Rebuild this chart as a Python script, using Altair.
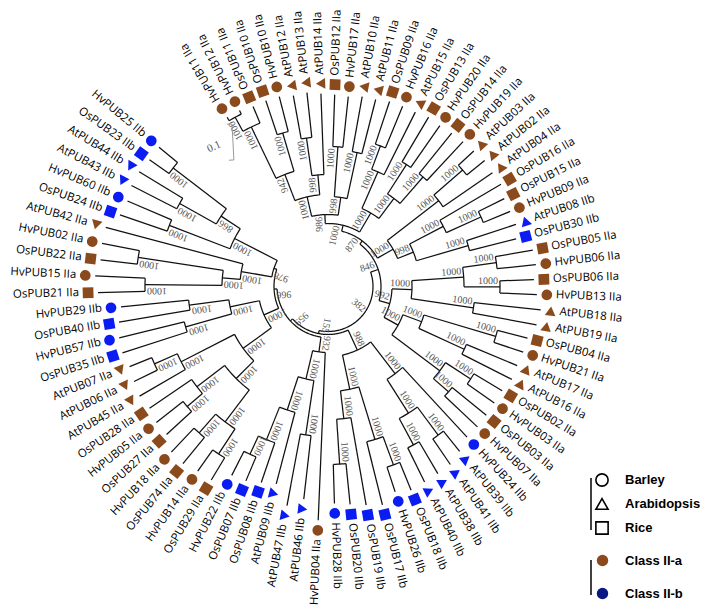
import re
import math
import pandas as pd
import altair as alt

# ---------------- data ----------------
LEAF_NAMES = [
    "HvPUB11 IIa", "HvPUB12 IIa", "OsPUB11 IIa", "OsPUB10 IIa", "HvPUB10 IIa",
    "AtPUB12 IIa", "AtPUB13 IIa", "AtPUB14 IIa", "OsPUB12 IIa", "HvPUB17 IIa",
    "AtPUB10 IIa", "AtPUB11 IIa", "OsPUB09 IIa", "HvPUB16 IIa", "AtPUB15 IIa",
    "OsPUB13 IIa", "HvPUB20 IIa", "OsPUB14 IIa", "HvPUB19 IIa", "AtPUB03 IIa",
    "AtPUB02 IIa", "AtPUB04 IIa", "OsPUB16 IIa", "OsPUB15 IIa", "HvPUB09 IIa",
    "AtPUB08 IIb", "OsPUB30 IIb", "OsPUB05 IIa", "HvPUB06 IIa", "OsPUB06 IIa",
    "HvPUB13 IIa", "AtPUB18 IIa", "AtPUB19 IIa", "OsPUB04 IIa", "HvPUB21 IIa",
    "AtPUB17 IIa", "AtPUB16 IIa", "OsPUB02 IIa", "HvPUB03 IIa", "OsPUB03 IIa",
    "HvPUB07 IIa", "HvPUB24 IIb", "AtPUB39 IIb", "AtPUB41 IIb", "AtPUB38 IIb",
    "AtPUB40 IIb", "OsPUB18 IIb", "HvPUB26 IIb", "OsPUB17 IIb", "OsPUB19 IIb",
    "OsPUB20 IIb", "HvPUB28 IIb", "HvPUB04 IIa", "AtPUB46 IIb", "AtPUB47 IIb",
    "AtPUB09 IIb", "OsPUB08 IIb", "OsPUB07 IIb", "HvPUB22 IIb", "OsPUB29 IIa",
    "HvPUB14 IIa", "OsPUB74 IIa", "HvPUB18 IIa", "OsPUB27 IIa", "HvPUB05 IIa",
    "OsPUB28 IIa", "AtPUB45 IIa", "AtPUB06 IIa", "AtPUB07 IIa", "OsPUB35 IIb",
    "HvPUB57 IIb", "OsPUB40 IIb", "HvPUB29 IIb", "OsPUB21 IIa", "HvPUB15 IIa",
    "OsPUB22 IIa", "HvPUB02 IIa", "AtPUB42 IIa", "OsPUB24 IIb", "HvPUB60 IIb",
    "AtPUB43 IIb", "AtPUB44 IIb", "OsPUB23 IIb", "HvPUB25 IIb",
]

# distance of each leaf tip from the tree centre (tree units = px)
TIP_RADIUS = [
    197, 197, 195, 196, 196, 194, 195, 193, 192, 191,
    193, 193, 195, 195, 195, 197, 196, 197, 198, 199,
    201, 200, 201, 197, 197, 198, 194, 208, 209, 206,
    209, 214, 212, 206, 206, 205, 206, 203, 203, 204,
    205, 205, 211, 216, 217, 218, 220, 216, 225, 222,
    219, 217, 234, 214, 223, 204, 207, 211, 212, 226,
    226, 229, 228, 219, 219, 216, 218, 216, 214, 216,
    215, 212, 208, 230, 233, 229, 230, 230, 220, 218,
    221, 221, 219, 219,
]

# topology: leaves are 1-based indices, internal nodes "(...)bootstrap@radius"
T_TOP = "((((1,2)1000@193,3)1000@177,(4,5)1000@160)942@120,((6,7)1000@150,8)998@112)1000@92"
T_U = "((9,10)1000@140,(11,12)1000@137)998@90"
T_V = "(((13,14)1000@150,15)1000@125,((16,17)1000@145,(18,19)1000@145)1000@110)1000@85"
T_W = "(((20,21)1000@178,22)1000@140,((23,(24,25)1000@168)1000@130,(26,27)1000@146)998@92)1000@75"
T_Y = ("((((28,29)1000@170,(30,31)1000@172)1000@136,(32,33)1000@147)1000@84,"
       "(((34,35)1000@175,(36,37)1000@150)1000@100,((38,39)1000@170,(40,41)1000@160)1000@140)1000@80)992@64")
T_Z = "((42,((43,44)1000@185,(45,46)1000@180)1000@150)1000@110,(((47,48)1000@190,49)1000@160,(50,(51,52)1000@178)1000@133)1000@105)988@70"
T_P = "(53,((54,55)1000@150,(56,(57,(58,59)1000@185)1000@165)1000@130)1000@95)932@66"
T_Q = ("(((((60,61)1000@200,(62,63)1000@195)1000@170,((64,65)1000@185,66)1000@165)1000@130,"
       "(67,(68,69)1000@190)1000@165)1000@105,((70,71)1000@148,(72,73)1000@140)1000@100)1000@70")
T_R = "(((74,75)1000@183,(76,77)1000@192)1000@106,78)1000@88"
T_S = "((79,80)1000@170,((81,82)1000@170,(83,84)1000@195)866@128)1000@105"

TOPOLOGY = (
    "(((((" + T_TOP + "," + T_U + ")986@72," + T_V + ")1000@63," + T_W + ")870@57," + T_Y + ")846@53,"
    "(" + T_Z + ",(" + T_P + ",(" + T_Q + ",(" + T_R + "," + T_S + ")978@57)966@54)959@51)155@48)382@45"
)

SPECIES_CODE = ["Hv", "At", "Os"]
SPECIES = ["Barley", "Arabidopsis", "Rice"]
SHAPES = ["circle", "triangle-up", "square"]
CLASS_CODE = ["IIa", "IIb"]
CLASS_LABELS = ["Class II-a", "Class II-b"]
SCALE_BAR_UNITS = 0.1

# ---------------- layout / style constants ----------------
CX, CY = 328.0, 286.5          # tree centre (page px)
START_ANGLE, STEP_ANGLE = -30.8, 4.1
MARKER_GAP, LABEL_GAP = 10, 9
N_OUTWARD = 52                 # labels of the first 52 leaves read outward
PX_PER_UNIT = 360.0
BROWN, BLUE, NAVY = "#8a4a1c", "#0a1cf2", "#0b1685"
LINE = "#111111"

W, H = 692, 599
xs = alt.Scale(domain=[8, 8 + W], nice=False, zero=False)
ys = alt.Scale(domain=[8, 8 + H], nice=False, zero=False, reverse=True)


def px(r, a):
    return CX + r * math.sin(math.radians(a))


def py(r, a):
    return CY - r * math.cos(math.radians(a))


def parse_tree(s):
    pos = 0

    def node():
        nonlocal pos
        if s[pos] == "(":
            pos += 1
            kids = [node()]
            while s[pos] == ",":
                pos += 1
                kids.append(node())
            pos += 1
            m = re.match(r"(\d*)@([\d.]+)", s[pos:])
            pos += m.end()
            return {"kids": kids, "boot": m.group(1), "r": float(m.group(2))}
        m = re.match(r"\d+", s[pos:])
        pos += m.end()
        return {"leaf": int(m.group())}

    return node()


tree = parse_tree(TOPOLOGY)


def layout(n):
    if "leaf" in n:
        i = n["leaf"] - 1
        n["a"] = START_ANGLE + i * STEP_ANGLE
        n["r"] = TIP_RADIUS[i]
    else:
        for k in n["kids"]:
            layout(k)
        n["a"] = (n["kids"][0]["a"] + n["kids"][-1]["a"]) / 2


layout(tree)

rules, arcs, boots = [], [], []
counter = [0]


def collect(n):
    if "leaf" in n:
        return
    counter[0] += 1
    nid = counter[0]
    for k in n["kids"]:
        rules.append(dict(x=px(n["r"], k["a"]), y=py(n["r"], k["a"]),
                          x2=px(k["r"], k["a"]), y2=py(k["r"], k["a"])))
        collect(k)
    a0, a1 = n["kids"][0]["a"], n["kids"][-1]["a"]
    steps = max(2, int(abs(a1 - a0) / 0.8) + 1)
    for j in range(steps + 1):
        a = a0 + (a1 - a0) * j / steps
        arcs.append(dict(id=nid, seq=j, x=px(n["r"], a), y=py(n["r"], a)))
    if n["boot"]:
        boots.append(dict(text=n["boot"], x=px(n["r"] - 2, n["a"]), y=py(n["r"] - 2, n["a"]),
                          rot=(n["a"] - 90) % 360))


collect(tree)

rules_df = pd.DataFrame(rules)
arcs_df = pd.DataFrame(arcs)
boots_df = pd.DataFrame(boots)

leaf_rows = []
for i, name in enumerate(LEAF_NAMES):
    a = START_ANGLE + i * STEP_ANGLE
    rm = TIP_RADIUS[i] + MARKER_GAP
    rl = rm + LABEL_GAP
    outward = i < N_OUTWARD
    leaf_rows.append(dict(
        name=name,
        species=SPECIES[SPECIES_CODE.index(name[:2])],
        cls=CLASS_LABELS[CLASS_CODE.index(name.split()[-1])],
        mx=px(rm, a), my=py(rm, a), mrot=(a - 90) % 360,
        lx=px(rl, a), ly=py(rl, a),
        lrot=((a - 90) % 360) if outward else ((a + 90) % 360),
        side="out" if outward else "in",
    ))
leaf_df = pd.DataFrame(leaf_rows)

# ---------------- layers ----------------
X = lambda f: alt.X(f, scale=xs, axis=None)
Y = lambda f: alt.Y(f, scale=ys, axis=None)

branches = alt.Chart(rules_df).mark_rule(color=LINE, strokeWidth=1.25).encode(
    x=X("x:Q"), y=Y("y:Q"), x2="x2:Q", y2="y2:Q")

arcs_layer = alt.Chart(arcs_df).mark_line(color=LINE, strokeWidth=1.25).encode(
    x=X("x:Q"), y=Y("y:Q"), detail="id:N", order="seq:Q")

boot_layer = alt.Chart(boots_df).mark_text(
    align="right", baseline="bottom", dy=-1, font="Liberation Serif", fontSize=10, color="#555555"
).encode(x=X("x:Q"), y=Y("y:Q"), text="text:N", angle=alt.Angle("rot:Q", scale=None))

markers = alt.Chart(leaf_df).mark_point(filled=True, size=115, opacity=1).encode(
    x=X("mx:Q"), y=Y("my:Q"),
    shape=alt.Shape("species:N", scale=alt.Scale(domain=SPECIES, range=SHAPES), legend=None),
    color=alt.Color("cls:N", scale=alt.Scale(domain=CLASS_LABELS, range=[BROWN, BLUE]), legend=None),
    angle=alt.Angle("mrot:Q", scale=None),
)

label_out = alt.Chart(leaf_df).transform_filter(alt.datum.side == "out").mark_text(
    align="left", baseline="middle", font="Open Sans", fontSize=11.5, color="black"
).encode(x=X("lx:Q"), y=Y("ly:Q"), text="name:N", angle=alt.Angle("lrot:Q", scale=None))

label_in = alt.Chart(leaf_df).transform_filter(alt.datum.side == "in").mark_text(
    align="right", baseline="middle", font="Open Sans", fontSize=11.5, color="black"
).encode(x=X("lx:Q"), y=Y("ly:Q"), text="name:N", angle=alt.Angle("lrot:Q", scale=None))

# scale bar (0.1 substitutions per site)
SB_X, SB_Y, SB_DIR = 232.0, 124.0, 87.0   # start point and direction (deg, screen)
sb_len = SCALE_BAR_UNITS * PX_PER_UNIT
ex = SB_X + sb_len * math.cos(math.radians(SB_DIR))
ey = SB_Y + sb_len * math.sin(math.radians(SB_DIR))
tick = 5
sdx, sdy = -tick * math.sin(math.radians(SB_DIR)), tick * math.cos(math.radians(SB_DIR))
sb_df = pd.DataFrame([
    dict(x=SB_X, y=SB_Y, x2=ex, y2=ey),
    dict(x=SB_X, y=SB_Y, x2=SB_X + sdx, y2=SB_Y + sdy),
    dict(x=ex, y=ey, x2=ex + sdx, y2=ey + sdy),
])
scale_bar = alt.Chart(sb_df).mark_rule(color="#9a9a9a", strokeWidth=1).encode(
    x=X("x:Q"), y=Y("y:Q"), x2="x2:Q", y2="y2:Q")
sb_text = alt.Chart(pd.DataFrame([dict(t=str(SCALE_BAR_UNITS), x=(SB_X + ex) / 2 - 19, y=(SB_Y + ey) / 2 + 5)])).mark_text(
    font="Liberation Serif", fontSize=11, color="#555555", angle=335
).encode(x=X("x:Q"), y=Y("y:Q"), text="t:N")

# legends (the legend-only layers sit outside the view)
leg_species = alt.Chart(pd.DataFrame({"sp": SPECIES})).mark_point(
    filled=False, color="black", strokeWidth=1.6, size=150, opacity=1
).encode(
    x=alt.value(-500), y=alt.value(-500),
    shape=alt.Shape("sp:N", scale=alt.Scale(domain=SPECIES, range=SHAPES),
                    legend=alt.Legend(title=None, orient="none", legendX=587, legendY=465,
                                      labelFont="Liberation Sans", labelFontWeight="bold",
                                      labelFontSize=13, labelColor="black", labelOffset=16,
                                      rowPadding=5, symbolSize=150, symbolStrokeWidth=1.6,
                                      symbolStrokeColor="black", symbolFillColor="white")),
)
leg_class = alt.Chart(pd.DataFrame({"cl": CLASS_LABELS})).mark_point(
    filled=True, shape="circle", size=130, opacity=1
).encode(
    x=alt.value(-500), y=alt.value(-500),
    color=alt.Color("cl:N", scale=alt.Scale(domain=CLASS_LABELS, range=[BROWN, NAVY]),
                    legend=alt.Legend(title=None, orient="none", legendX=588, legendY=546,
                                      labelFont="Liberation Sans", labelFontWeight="bold",
                                      labelFontSize=13, labelColor="black", labelOffset=16,
                                      rowPadding=19, symbolSize=130, symbolType="circle",
                                      symbolOpacity=1, symbolStrokeWidth=0)),
)
leg_line1 = alt.Chart(pd.DataFrame({"k": [0]})).mark_rule(color="black", strokeWidth=1.5).encode(
    x=alt.value(583), y=alt.value(470), y2=alt.value(522))
leg_line2 = alt.Chart(pd.DataFrame({"k": [0]})).mark_rule(color="black", strokeWidth=1.5).encode(
    x=alt.value(583), y=alt.value(552), y2=alt.value(587))

chart = alt.layer(
    branches, arcs_layer, boot_layer, scale_bar, sb_text, markers, label_out, label_in,
    leg_species, leg_class, leg_line1, leg_line2,
).resolve_scale(color="independent", shape="independent").properties(
    width=W, height=H, autosize=alt.AutoSizeParams(type="none"), padding=0
).configure_view(stroke=None)

chart.save("out.html", embed_options={"renderer": "svg", "actions": False})
